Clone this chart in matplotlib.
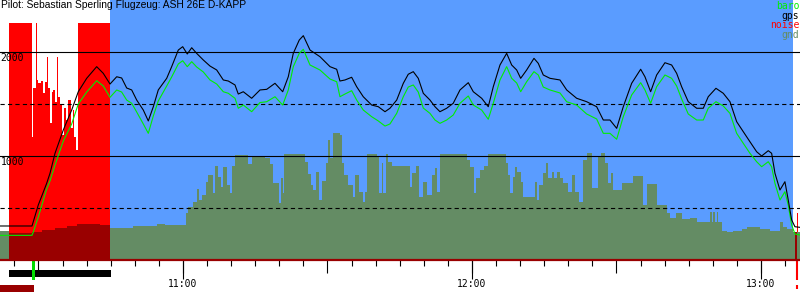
import matplotlib
matplotlib.use("Agg")
import matplotlib.pyplot as plt
from matplotlib.patches import Rectangle
from matplotlib.ticker import MultipleLocator

# times are minutes after 10:00, altitudes in m
t = [22.01, 28.65, 28.92, 29.96, 31.70, 32.39, 33.43, 35.15, 36.89, 38.26,
     40.01, 42.08, 43.45, 44.85, 46.24, 47.27, 48.31, 49.35, 50.39, 51.76,
     52.80, 53.84, 54.87, 56.62, 57.65, 59.03, 59.94, 60.89, 61.81, 62.84,
     64.22, 65.61, 67.00, 68.37, 69.41, 70.80, 71.48, 72.52, 74.26, 75.99,
     77.38, 79.10, 80.70, 81.86, 82.90, 84.14, 84.98, 86.37, 88.44, 90.52,
     91.91, 92.59, 93.63, 95.02, 96.06, 97.43, 99.17, 100.55, 101.94, 102.97,
     104.37, 105.74, 106.77, 107.81, 108.85, 109.89, 111.28, 112.32, 113.35, 114.74,
     116.11, 117.51, 119.23, 120.27, 122.01, 123.38, 124.42, 125.81, 127.20, 128.24,
     129.28, 130.11, 131.35, 132.87, 133.76, 134.80, 136.19, 138.27, 139.66, 141.73,
     143.81, 145.88, 147.26, 148.65, 150.04, 151.41, 153.15, 155.02, 155.91, 157.09,
     158.34, 160.06, 161.45, 162.49, 163.53, 164.90, 166.65, 168.02, 169.05, 170.65,
     172.17, 173.56, 174.95, 176.32, 177.71, 179.10, 180.14, 181.51, 182.21, 182.90,
     183.94, 184.97, 185.66, 186.37, 187.05, 188.10]
gps = [327, 327, 368, 529, 737, 834, 1026, 1250, 1442, 1618,
       1747, 1859, 1795, 1692, 1762, 1750, 1654, 1635, 1538, 1442,
       1337, 1474, 1635, 1747, 1859, 2019, 2051, 1981, 2041, 1987,
       1923, 1865, 1827, 1731, 1721, 1683, 1596, 1618, 1555, 1635,
       1641, 1699, 1618, 1762, 1987, 2115, 2157, 2019, 1955, 1859,
       1834, 1721, 1731, 1757, 1666, 1570, 1490, 1474, 1426, 1459,
       1538, 1699, 1786, 1811, 1747, 1603, 1538, 1474, 1426, 1459,
       1507, 1635, 1705, 1618, 1555, 1474, 1666, 1875, 1987, 1875,
       1827, 1747, 1827, 1939, 1891, 1779, 1747, 1731, 1635, 1555,
       1522, 1474, 1346, 1346, 1266, 1474, 1699, 1834, 1762, 1618,
       1779, 1897, 1875, 1795, 1666, 1522, 1459, 1459, 1570, 1651,
       1603, 1522, 1330, 1234, 1137, 1041, 1000, 1051, 1026, 834,
       673, 753, 577, 385, 320, 314]
baro = [237, 237, 269, 413, 683, 760, 913, 1144, 1308, 1500,
        1615, 1724, 1673, 1564, 1635, 1615, 1538, 1507, 1423, 1308,
        1218, 1385, 1529, 1673, 1760, 1885, 1916, 1859, 1907, 1856,
        1808, 1731, 1692, 1618, 1603, 1555, 1459, 1490, 1426, 1514,
        1522, 1570, 1490, 1635, 1859, 1987, 2026, 1875, 1827, 1740,
        1714, 1570, 1596, 1628, 1538, 1442, 1378, 1337, 1288, 1308,
        1410, 1570, 1663, 1683, 1615, 1461, 1410, 1346, 1314, 1346,
        1394, 1507, 1577, 1490, 1442, 1353, 1507, 1731, 1859, 1747,
        1702, 1618, 1714, 1811, 1779, 1663, 1635, 1606, 1522, 1490,
        1404, 1356, 1218, 1218, 1161, 1378, 1587, 1705, 1635, 1507,
        1666, 1779, 1747, 1673, 1548, 1404, 1346, 1346, 1459, 1522,
        1481, 1410, 1218, 1122, 1026, 945, 897, 945, 897, 737,
        577, 657, 529, 337, 250, 240]

gnd_t = [22.01, 23.88, 28.65, 30.73, 33.43, 35.92, 37.99, 42.77, 44.85, 49.62,
         54.60, 56.26, 60.56, 61.04, 62.08, 62.84, 63.32, 63.95, 64.78, 65.25,
         66.17, 66.64, 67.33, 67.83, 68.37, 69.07, 69.76, 70.24, 70.80, 73.56,
         74.26, 77.02, 78.06, 78.75, 80.00, 80.28, 80.70, 80.97, 85.33, 86.01,
         86.51, 87.05, 87.61, 88.30, 88.79, 89.69, 90.17, 90.52, 91.20, 92.59,
         93.07, 93.42, 94.32, 95.36, 95.71, 96.60, 97.30, 97.78, 98.14, 100.21,
         100.75, 101.25, 101.58, 102.08, 102.62, 103.33, 107.13, 107.48, 108.31, 109.06,
         109.76, 110.72, 111.63, 112.32, 112.67, 113.35, 118.90, 119.58, 120.41, 120.83,
         121.66, 122.49, 123.38, 127.06, 127.53, 127.89, 128.45, 128.92, 129.40, 130.11,
         130.65, 133.08, 133.43, 133.97, 134.80, 135.36, 135.84, 136.54, 137.02, 137.57,
         138.27, 138.95, 139.99, 140.69, 141.38, 142.27, 142.98, 143.81, 144.85, 146.22,
         146.71, 147.61, 148.30, 148.79, 149.21, 151.08, 153.36, 155.56, 156.26, 158.34,
         160.41, 161.10, 162.35, 163.53, 165.25, 166.65, 169.41, 169.76, 170.09, 170.44,
         170.80, 171.13, 171.84, 172.87, 174.25, 175.99, 177.03, 179.79, 181.86, 183.94,
         184.50, 185.33, 186.70, 188.10]
gnd_h = [279, 257, 272, 288, 305, 327, 346, 332, 305, 327,
         346, 337, 449, 513, 560, 680, 577, 625, 753, 817,
         644, 904, 801, 705, 897, 721, 641, 904, 1010, 923,
         994, 981, 920, 737, 551, 785, 641, 1019, 945, 827,
         721, 673, 849, 577, 762, 929, 1154, 985, 1218, 1202,
         929, 817, 721, 609, 817, 657, 560, 657, 1019, 994,
         641, 929, 647, 1019, 945, 904, 705, 834, 904, 609,
         753, 625, 817, 882, 657, 1019, 962, 897, 641, 785,
         865, 907, 1019, 929, 817, 641, 801, 897, 849, 753,
         609, 753, 577, 721, 840, 929, 785, 849, 785, 849,
         785, 737, 657, 817, 657, 560, 962, 1026, 689, 994,
         1026, 929, 737, 834, 673, 737, 808, 529, 731, 529,
         449, 401, 449, 391, 401, 369, 462, 369, 462, 369,
         462, 369, 282, 272, 282, 295, 314, 298, 282, 369,
         314, 295, 272, 272]

# engine noise level, percent of full scale
noise_t = [23.88, 28.65, 28.92, 29.48, 29.75, 29.96, 30.46, 30.87, 31.35, 31.70,
           32.04, 32.39, 32.74, 33.08, 33.43, 33.78, 34.11, 34.47, 34.94, 35.36,
           35.71, 36.19, 36.69, 37.10, 37.37, 37.79, 38.20, 44.85, 187.45, 187.65]
noise = [100, 51.8, 72.4, 100, 76, 74.6, 75.5, 70.3, 75.2, 85.8,
         72.4, 57.7, 71, 71.7, 66.8, 85.8, 68.9, 65.4, 52.7, 64,
         59, 67.5, 55.6, 63.3, 52, 46.4, 100, 0, 20, 0]

motor_spans = [(23.88, 44.85), (187.0, 187.45)]
engine_run = (23.88, 45.05)
flight = (44.85, 186.6)
takeoff = 28.96
landing = 187.55
hour_ticks = [60, 120, 180]
hour_labels = ["11:00", "12:00", "13:00"]
alt_labels = [2000, 1000]

BLUE = "#5a9cff"
GND = "#648c64"
DARK = "#990000"
GREEN = "#00ee00"
MONO = "DejaVu Sans Mono"
xlim = (22.01, 188.1)

fig = plt.figure(figsize=(8, 3), dpi=100)
ax = fig.add_axes([0, 40 / 300, 1, 260 / 300])
nx = ax.twinx()
ax.set_zorder(2)
nx.set_zorder(1)
ax.patch.set_visible(False)

# background: flight span and engine noise
nx.axvspan(*flight, color=BLUE, lw=0)
nx.fill_between(noise_t, 0, noise, step="post", color="#ff0000", lw=0)
nx.set_ylim(0, 109.7)
nx.set_yticks([])
for s in nx.spines.values():
    s.set_visible(False)

# ground
ax.fill_between(gnd_t, 0, gnd_h, step="post", color=GND, lw=0, zorder=2)
for a, b in motor_spans:
    poly = ax.fill_between(gnd_t, 0, gnd_h, step="post", color=DARK, lw=0, zorder=2.1)
    poly.set_clip_path(Rectangle((a, 0), b - a, 3000, transform=ax.transData))

for h in (1000, 2000):
    ax.axhline(h, color="black", lw=0.8, zorder=3)
for h in (500, 1500):
    ax.axhline(h, color="black", lw=0.8, dashes=(3.8, 2.9), zorder=3)

ax.plot(t, baro, color=GREEN, lw=0.8, zorder=4)
ax.plot(t, gps, color="black", lw=0.8, zorder=5)

ax.set_xlim(*xlim)
ax.set_ylim(0, 2500)
ax.set_yticks([])
for k in ("left", "right", "top"):
    ax.spines[k].set_visible(False)
ax.spines["bottom"].set_color(DARK)
ax.spines["bottom"].set_linewidth(1.6)
ax.spines["bottom"].set_zorder(6)

ax.xaxis.set_major_locator(MultipleLocator(30))
ax.xaxis.set_minor_locator(MultipleLocator(5))
ax.tick_params(axis="x", which="major", length=9, width=0.8, color="black", labelbottom=False)
ax.tick_params(axis="x", which="minor", length=4.5, width=0.8, color="black")

sec = ax.secondary_xaxis("bottom")
sec.set_xticks(hour_ticks, hour_labels)
sec.tick_params(length=13.5, width=0.8, pad=0.5, labelsize=7)
for lbl in sec.get_xticklabels():
    lbl.set_family(MONO)
sec.spines["bottom"].set_visible(False)

for v in alt_labels:
    ax.text(0.001, v - 8, str(v), transform=ax.get_yaxis_transform(), ha="left", va="top",
            family=MONO, size=7, zorder=7)

# strip under the time axis
bx = fig.add_axes([0, 0, 1, 40 / 300])
bx.set_xlim(*xlim)
bx.set_ylim(40, 0)
bx.axis("off")
bx.barh(13.5, engine_run[1] - engine_run[0], left=engine_run[0], height=7, color="black")
bx.barh(28.5, takeoff + 0.1 - xlim[0], left=xlim[0], height=7, color=DARK)
bx.bar(takeoff, 19, bottom=1, width=0.62, color="#00dd00")
bx.vlines(landing, 0, 20, color="#ff0000", lw=1.5)
bx.vlines(landing, 25, 29, color="#ff0000", lw=1.5)

fig.text(0.001, 0.999, "Pilot: Sebastian Sperling Flugzeug: ASH 26E D-KAPP",
         ha="left", va="top", family="Liberation Sans", size=7.4)
for i, (name, col) in enumerate([("baro", GREEN), ("gps", "black"), ("noise", "#ff0000"), ("gnd", GND)]):
    fig.text(0.999, 1 - (1 + 9.6 * i) / 300, name, color=col, ha="right", va="top",
             family=MONO, size=7)

fig.savefig("out.png", dpi=100)
